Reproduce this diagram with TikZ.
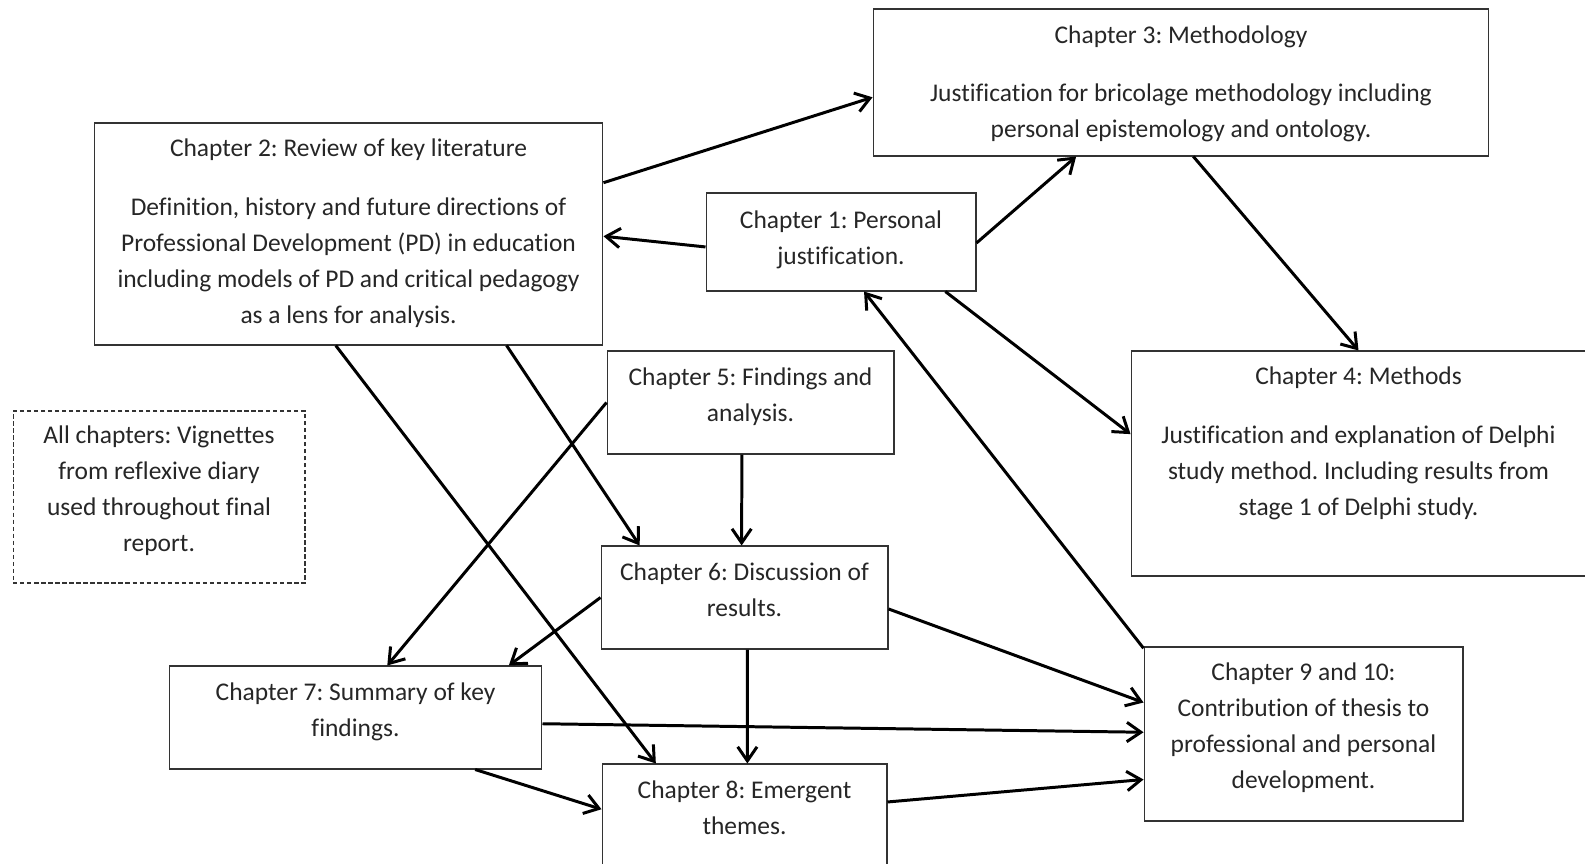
\documentclass[tikz,border=0pt]{standalone}
\usepackage{fontspec}
\setmainfont{Carlito}[Ligatures=NoCommon]
\frenchspacing
\usetikzlibrary{arrows.meta,calc}
\newcommand{\boxend}[1][-11.5pt]{\\[#1]\mbox{}}

\begin{document}
\begin{tikzpicture}[x=0.02cm,y=-0.02cm,
    every node/.style={align=center,text=black!85,font=\fontsize{14.5}{20.5}\selectfont},
    box/.style={draw=black!80,line width=0.6pt,inner sep=2pt},
    arr/.style={line width=1.7pt,-{Straight Barb[length=8pt,width=11pt]}}]
  \useasboundingbox (0,0) rectangle (1585,864);

  % chapter boxes
  \node[box,minimum width=12.32cm,minimum height=2.94cm] (ch3) at (1181,82.5)
    {Chapter 3: Methodology\\[13pt]Justification for bricolage methodology including\\personal epistemology and ontology.\boxend[-19.5pt]};
  \node[box,minimum width=10.18cm,minimum height=4.44cm] (ch2) at (348.5,234)
    {Chapter 2: Review of key literature\\[13pt]Definition, history and future directions of\\Professional Development (PD) in education\\including models of PD and critical pedagogy\\as a lens for analysis.\boxend[-17.2pt]};
  \node[box,minimum width=5.40cm,minimum height=1.96cm] (ch1) at (841,242)
    {Chapter 1: Personal\\justification.\boxend[-15pt]};
  \node[box,minimum width=9.10cm,minimum height=4.50cm] (ch4) at (1358.5,463.5)
    {Chapter 4: Methods\\[13pt]Justification and explanation of Delphi\\study method. Including results from\\stage 1 of Delphi study.\boxend[4.6pt]};
  \node[box,minimum width=5.74cm,minimum height=2.06cm] (ch5) at (750.5,402.5)
    {Chapter 5: Findings and\\analysis.\boxend};
  \node[box,minimum width=5.74cm,minimum height=2.06cm] (ch6) at (744.5,597.5)
    {Chapter 6: Discussion of\\results.\boxend};
  \node[box,minimum width=7.46cm,minimum height=2.06cm] (ch7) at (355.5,717.5)
    {Chapter 7: Summary of key\\findings.\boxend};
  \node[box,minimum width=5.70cm,minimum height=2.06cm] (ch8) at (744.5,815.5)
    {Chapter 8: Emergent\\themes.\boxend};
  \node[box,minimum width=6.38cm,minimum height=3.48cm] (ch9) at (1303.5,734)
    {Chapter 9 and 10:\\Contribution of thesis to\\professional and personal\\development.\boxend};
  \node[box,dash pattern=on 2.5pt off 1.5pt,minimum width=5.84cm,minimum height=3.44cm] (vign) at (159,497)
    {All chapters: Vignettes\\from reflexive diary\\used throughout final\\report.\boxend};

  % connectors
  \draw[arr] ($(ch2.north east)!.27!(ch2.south east)$) -- ($(ch3.north west)!.6!(ch3.south west)$);
  \draw[arr] ($(ch1.north west)!.55!(ch1.south west)$) -- ($(ch2.north east)!.51!(ch2.south east)$);
  \draw[arr] ($(ch1.north east)!.51!(ch1.south east)$) -- ($(ch3.south west)!.33!(ch3.south east)$);
  \draw[arr] ($(ch3.south west)!.52!(ch3.south east)$) -- (ch4.north);
  \draw[arr] ($(ch1.south west)!.885!(ch1.south east)$) -- ($(ch4.north west)!.37!(ch4.south west)$);
  \draw[arr] ($(ch2.south west)!.81!(ch2.south east)$) -- ($(ch6.north west)!.136!(ch6.north east)$);
  \draw[arr] ($(ch2.south west)!.475!(ch2.south east)$) -- ($(ch8.north west)!.19!(ch8.north east)$);
  \draw[arr] (ch5.west) -- ($(ch7.north west)!.585!(ch7.north east)$);
  \draw[arr] ($(ch5.south west)!.47!(ch5.south east)$) -- ($(ch6.north west)!.49!(ch6.north east)$);
  \draw[arr] (ch6.west) -- ($(ch7.north west)!.91!(ch7.north east)$);
  \draw[arr] ($(ch6.south west)!.51!(ch6.south east)$) -- ($(ch8.north west)!.51!(ch8.north east)$);
  \draw[arr] ($(ch6.north east)!.61!(ch6.south east)$) -- ($(ch9.north west)!.32!(ch9.south west)$);
  \draw[arr] ($(ch7.north east)!.56!(ch7.south east)$) -- ($(ch9.north west)!.49!(ch9.south west)$);
  \draw[arr] ($(ch7.south west)!.82!(ch7.south east)$) -- ($(ch8.north west)!.44!(ch8.south west)$);
  \draw[arr] ($(ch8.north east)!.37!(ch8.south east)$) -- ($(ch9.north west)!.76!(ch9.south west)$);
  \draw[arr] ($(ch9.north west)!.01!(ch9.south west)$) -- ($(ch1.south west)!.585!(ch1.south east)$);
\end{tikzpicture}
\end{document}
